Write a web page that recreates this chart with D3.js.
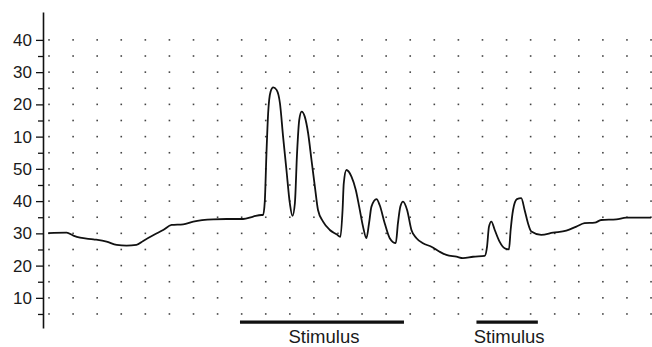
<!DOCTYPE html>
<html>
<head>
<meta charset="utf-8">
<script src="https://cdn.jsdelivr.net/npm/d3@7"></script>
<style>
  html, body { margin: 0; padding: 0; background: #fff; }
  svg { display: block; }
</style>
</head>
<body>
<svg></svg>
<script>
// Trace values: time in grid columns, response in grid rows
const traceTime = [
  -0.03, 0.73, 1.01, 1.29, 1.84, 2.39, 2.81, 3.22, 3.63, 3.91, 4.40, 4.74, 5.09, 5.57, 5.99,
  6.82, 7.37, 8.06, 8.48, 8.82, 8.89, 8.96, 9.03, 9.10, 9.20, 9.31, 9.45, 9.59, 9.72, 9.86,
  10.00, 10.11, 10.21, 10.30, 10.39, 10.49, 10.62, 10.76, 10.90, 11.04, 11.17, 11.38, 11.66, 11.94,
  12.10, 12.19, 12.24, 12.35, 12.56, 12.74, 12.88, 13.04, 13.18, 13.29, 13.39, 13.60, 13.73, 13.94,
  14.15, 14.40, 14.49, 14.59, 14.70, 14.87, 15.05, 15.26, 15.53, 15.88, 16.22, 16.50, 16.92, 17.19,
  17.61, 18.09, 18.19, 18.27, 18.37, 18.51, 18.71, 18.92, 19.10, 19.17, 19.27, 19.43, 19.61, 19.75,
  19.89, 20.03, 20.44, 20.93, 21.48, 21.90, 22.24, 22.66, 22.93, 23.56, 23.97, 25.00
];
const traceValue = [
  6.01, 6.04, 5.86, 5.73, 5.63, 5.49, 5.28, 5.24, 5.28, 5.53, 5.94, 6.21, 6.52, 6.56, 6.73,
  6.87, 6.89, 6.89, 7.04, 7.14, 7.14, 7.97, 10.99, 13.47, 14.79, 15.06, 14.90, 14.07, 12.00, 9.93,
  7.87, 7.08, 7.87, 10.97, 13.03, 13.55, 13.24, 12.21, 10.55, 8.90, 7.45, 6.73, 6.21, 5.94,
  5.78, 7.45, 9.11, 9.93, 9.52, 8.69, 7.66, 6.42, 5.70, 6.63, 7.66, 8.12, 7.76, 6.63,
  5.70, 5.39, 6.63, 7.66, 7.97, 7.45, 6.21, 5.70, 5.39, 5.17, 4.86, 4.66, 4.55, 4.46,
  4.55, 4.60, 5.18, 6.42, 6.73, 6.21, 5.49, 5.08, 5.01, 6.21, 7.45, 8.12, 8.18, 7.45,
  6.63, 6.11, 5.90, 6.04, 6.17, 6.42, 6.63, 6.66, 6.83, 6.87, 6.97, 6.97
];

// Y axis: labelled ticks (bottom to top) and the small ticks between them
const yMajorTicks = [2, 4, 6, 8, 10, 12, 14, 16, 18];
const yTickLabels = ["10", "20", "30", "40", "50", "10", "20", "30", "40"];
const yMinorTicks = [1, 3, 5, 7, 9, 11, 13, 15, 17];

// Dotted grid
const gridColumns = d3.range(0, 26);
const gridRows = d3.range(1, 19);

// Stimulus periods
const stimStart = [7.93, 17.75];
const stimEnd = [14.74, 20.30];
const stimLabels = ["Stimulus", "Stimulus"];

window.onload = function () {
    const width = 652;
    const height = 347;

    const svg = d3.select("svg")
        .attr("width", width)
        .attr("height", height);

    // Escalas
    const x = d3.scaleLinear().domain([-0.25, 25.04]).range([43, 652]);
    const y = d3.scaleLinear().domain([0.13, 19.73]).range([328, 12]);

    // Grid of dots
    const dots = [];
    gridRows.forEach(r => gridColumns.forEach(c => dots.push({ c, r })));
    svg.append("g")
        .selectAll("rect")
        .data(dots)
        .enter()
        .append("rect")
        .attr("x", d => x(d.c) - 0.8)
        .attr("y", d => y(d.r) - 0.8)
        .attr("width", 1.6)
        .attr("height", 1.6)
        .attr("fill", "#444");

    // Y axis
    const yAxis = svg.append("g")
        .attr("transform", `translate(${x(-0.25)},0)`)
        .call(d3.axisLeft(y)
            .tickValues(yMajorTicks)
            .tickFormat((d, i) => yTickLabels[i])
            .tickSize(7)
            .tickSizeOuter(0)
            .tickPadding(4));
    yAxis.select(".domain").attr("stroke", "#111").attr("stroke-width", 1.6);
    yAxis.selectAll(".tick line").attr("stroke", "#111").attr("stroke-width", 1.3);
    yAxis.selectAll(".tick text")
        .attr("fill", "#1a1a1a")
        .style("font-family", "'Liberation Sans', Arial, sans-serif")
        .style("font-size", "17px");

    const yMinor = svg.append("g")
        .attr("transform", `translate(${x(-0.25)},0)`)
        .call(d3.axisLeft(y).tickValues(yMinorTicks).tickFormat("").tickSize(5).tickSizeOuter(0));
    yMinor.select(".domain").remove();
    yMinor.selectAll(".tick line").attr("stroke", "#111").attr("stroke-width", 1.3);

    // Trace
    const trace = traceTime.map((t, i) => [t, traceValue[i]]);
    const line = d3.line()
        .x(d => x(d[0]))
        .y(d => y(d[1]))
        .curve(d3.curveMonotoneX);
    svg.append("path")
        .datum(trace)
        .attr("d", line)
        .attr("fill", "none")
        .attr("stroke", "#111")
        .attr("stroke-width", 1.8)
        .attr("stroke-linejoin", "round");

    // Stimulus bars and labels
    const stim = stimStart.map((s, i) => ({ s, e: stimEnd[i], label: stimLabels[i] }));
    const stimG = svg.append("g");
    stimG.selectAll("line")
        .data(stim)
        .enter()
        .append("line")
        .attr("x1", d => x(d.s))
        .attr("x2", d => x(d.e))
        .attr("y1", y(0.5))
        .attr("y2", y(0.5))
        .attr("stroke", "#111")
        .attr("stroke-width", 3.2);
    stimG.selectAll("text")
        .data(stim)
        .enter()
        .append("text")
        .attr("x", d => x((d.s + d.e) / 2) + 2)
        .attr("y", y(-0.78))
        .attr("text-anchor", "middle")
        .style("font-family", "'Liberation Sans', Arial, sans-serif")
        .style("font-size", "18.5px")
        .attr("fill", "#1a1a1a")
        .text(d => d.label);
};
</script>
</body>
</html>
